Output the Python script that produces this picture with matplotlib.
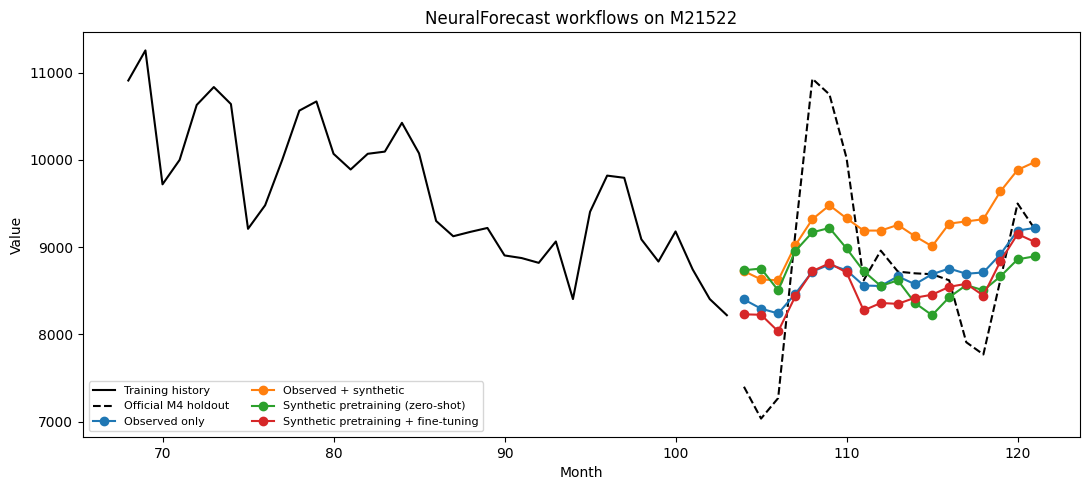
import matplotlib
matplotlib.use("Agg")
import matplotlib.pyplot as plt

# training history (months 68-103)
train_months = list(range(68, 104))
train_values = [10910, 11255, 9720, 10000, 10630, 10835, 10640, 9210, 9480, 10000,
                10565, 10670, 10070, 9890, 10070, 10095, 10425, 10075, 9300, 9125,
                9175, 9220, 8905, 8875, 8820, 9065, 8405, 9405, 9820, 9795,
                9090, 8835, 9180, 8745, 8405, 8220]

# forecast horizon (months 104-121)
test_months = list(range(104, 122))
holdout = [7400, 7035, 7270, 9150, 10930, 10750, 10020, 8620, 8960, 8720,
           8700, 8690, 8620, 7910, 7770, 8630, 9500, 9210]
observed_only = [8400, 8295, 8240, 8465, 8720, 8800, 8735, 8560, 8555, 8665,
                 8575, 8690, 8755, 8695, 8710, 8920, 9190, 9220]
observed_synth = [8725, 8630, 8620, 9020, 9320, 9480, 9330, 9190, 9190, 9255,
                  9125, 9010, 9270, 9295, 9320, 9640, 9885, 9975]
zero_shot = [8735, 8755, 8505, 8955, 9170, 9220, 8985, 8725, 8555, 8620,
             8360, 8220, 8425, 8565, 8505, 8665, 8860, 8895]
fine_tuned = [8230, 8225, 8035, 8435, 8725, 8815, 8710, 8275, 8360, 8350,
              8420, 8455, 8545, 8580, 8445, 8840, 9150, 9060]

plt.figure(figsize=(10.89, 4.9), dpi=100)
plt.plot(train_months, train_values, color='black', label='Training history')
plt.plot(test_months, holdout, color='black', linestyle='--', label='Official M4 holdout')
plt.plot(test_months, observed_only, marker='o', label='Observed only')
plt.plot(test_months, observed_synth, marker='o', label='Observed + synthetic')
plt.plot(test_months, zero_shot, marker='o', label='Synthetic pretraining (zero-shot)')
plt.plot(test_months, fine_tuned, marker='o', label='Synthetic pretraining + fine-tuning')
plt.title('NeuralForecast workflows on M21522')
plt.xlabel('Month')
plt.ylabel('Value')
plt.legend(loc='lower left', ncol=2, fontsize=8)
plt.subplots_adjust(left=83/1089, right=1080/1089, top=1-32/490, bottom=1-437/490)
plt.savefig('out.png', dpi=100)
